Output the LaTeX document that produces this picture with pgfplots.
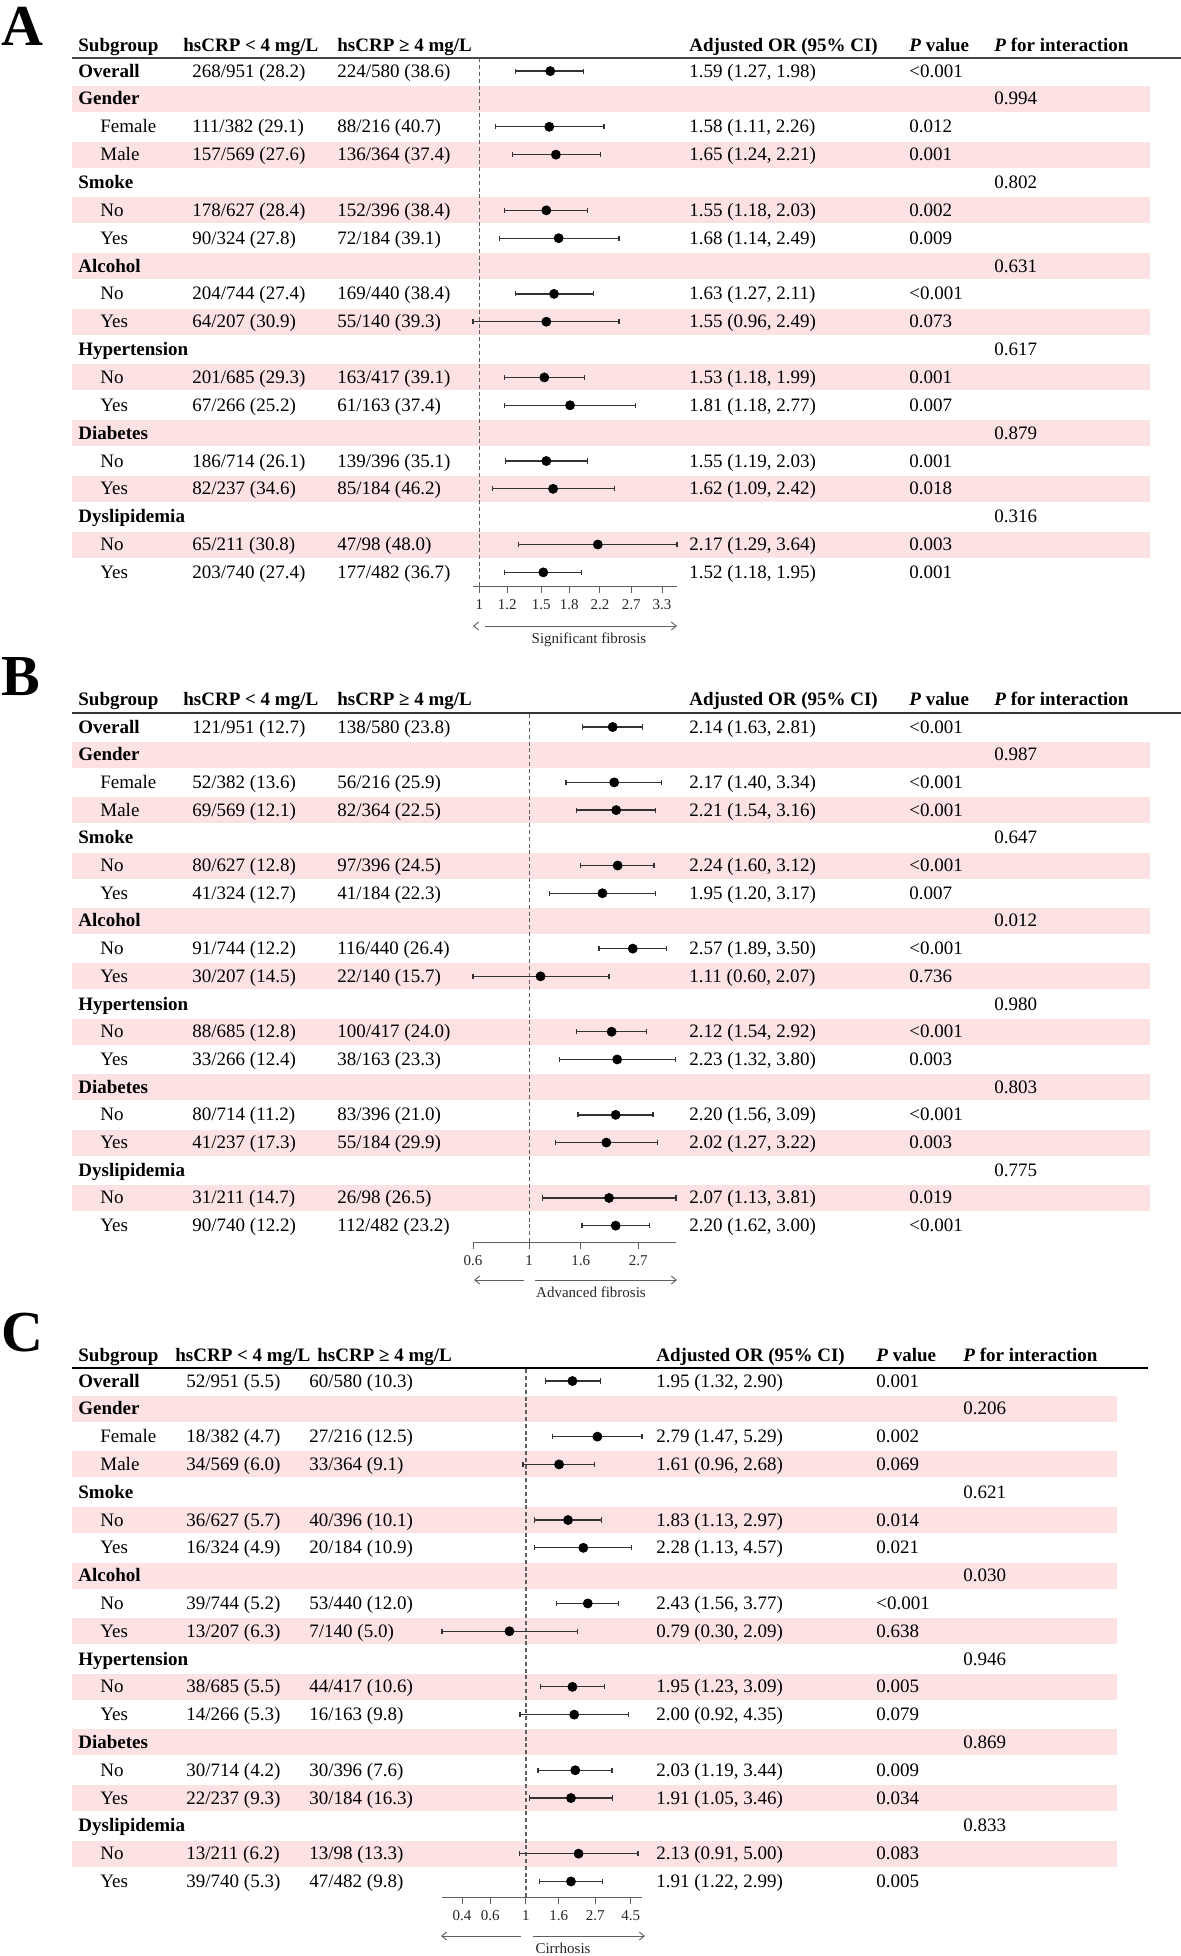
\documentclass[border=0pt]{standalone}
\usepackage{pgfplots}
\pgfplotsset{compat=1.18}
\usepackage{pgfplotstable}
\usepackage{fontspec}
\setmainfont{Liberation Serif}
\usetikzlibrary{arrows.meta}

\newlength\pu
\setlength\pu{0.5pt}
\definecolor{band}{RGB}{252,226,226}
\definecolor{cigray}{RGB}{50,50,50}
\definecolor{axgray}{RGB}{95,95,95}

% odds ratios per panel: row, OR, lower, upper
\pgfplotstableread{
row or lo hi
0 1.59 1.27 1.98
2 1.58 1.11 2.26
3 1.65 1.24 2.21
5 1.55 1.18 2.03
6 1.68 1.14 2.49
8 1.63 1.27 2.11
9 1.55 0.96 2.49
11 1.53 1.18 1.99
12 1.81 1.18 2.77
14 1.55 1.19 2.03
15 1.62 1.09 2.42
17 2.17 1.29 3.64
18 1.52 1.18 1.95
}\orA
\pgfplotstableread{
row or lo hi
0 2.14 1.63 2.81
2 2.17 1.40 3.34
3 2.21 1.54 3.16
5 2.24 1.60 3.12
6 1.95 1.20 3.17
8 2.57 1.89 3.50
9 1.11 0.60 2.07
11 2.12 1.54 2.92
12 2.23 1.32 3.80
14 2.20 1.56 3.09
15 2.02 1.27 3.22
17 2.07 1.13 3.81
18 2.20 1.62 3.00
}\orB
\pgfplotstableread{
row or lo hi
0 1.95 1.32 2.90
2 2.79 1.47 5.29
3 1.61 0.96 2.68
5 1.83 1.13 2.97
6 2.28 1.13 4.57
8 2.43 1.56 3.77
9 0.79 0.30 2.09
11 1.95 1.23 3.09
12 2.00 0.92 4.35
14 2.03 1.19 3.44
15 1.91 1.05 3.46
17 2.13 0.91 5.00
18 1.91 1.22 2.99
}\orC

\pgfplotsset{forestax/.style={
    scale only axis, anchor=south west, clip=false,
    axis x line*=bottom, axis y line=none,
    x axis line style={axgray, line width=0.5pt},
    tick style={axgray, line width=0.5pt},
    tick align=outside, major tick length=3.5pt,
    minor xtick={}, ytick=\empty,
    xticklabel style={font=\fontsize{7.5}{9}\selectfont, text=black!85},
  },
  ciplt/.style={only marks, mark=*, mark size=2.25pt, black,
    error bars/.cd, x dir=both, x explicit, error mark=|,
    error bar style={cigray, line width=0.65pt},
    error mark options={cigray, line width=0.6pt, mark size=1.3pt}},
}
\tikzset{txt/.style={anchor=base west, inner sep=0pt}}
\newcommand\ciplot[1]{\addplot[ciplt] table[x=or, y expr=-\thisrow{row},
    x error minus expr=\thisrow{or}-\thisrow{lo},
    x error plus expr=\thisrow{hi}-\thisrow{or}] {#1};}

% column positions (px)
\newcommand\setcols[9]{\def\ya{#1}\def\ys{#2}\def\cAh{#3}\def\cA{#4}%
  \def\cBh{#5}\def\cB{#6}\def\cOR{#7}\def\cP{#8}\def\cPI{#9}}
\newcommand\yb[1]{-(\ya+#1*\ys+6)*\pu}
\newcommand\band[1]{\fill[band] ({72*\pu},{-(\ya+#1*\ys-13)*\pu}) rectangle ({\bx*\pu},{-(\ya+#1*\ys+13)*\pu});}
\newcommand\hdr[1]{%
  \node[txt,font=\bfseries] at ({78*\pu},{-#1*\pu}) {Subgroup};
  \node[txt,font=\bfseries] at ({\cAh*\pu},{-#1*\pu}) {hsCRP < 4 mg/L};
  \node[txt,font=\bfseries] at ({\cBh*\pu},{-#1*\pu}) {hsCRP ≥ 4 mg/L};
  \node[txt,font=\bfseries] at ({\cOR*\pu},{-#1*\pu}) {Adjusted OR (95\% CI)};
  \node[txt,font=\bfseries] at ({\cP*\pu},{-#1*\pu}) {\textit{P} value};
  \node[txt,font=\bfseries] at ({\cPI*\pu},{-#1*\pu}) {\textit{P} for interaction};}
\newcommand\grp[3]{%
  \node[txt,font=\bfseries] at ({78*\pu},{\yb{#1}}) {#2};
  \node[txt] at ({\cPI*\pu},{\yb{#1}}) {#3};}
\newcommand\ent[8]{%
  \node[txt,font=#1] at ({#2*\pu},{\yb{#3}}) {#4};
  \node[txt] at ({\cA*\pu},{\yb{#3}}) {#5};
  \node[txt] at ({\cB*\pu},{\yb{#3}}) {#6};
  \node[txt] at ({\cOR*\pu},{\yb{#3}}) {#7};
  \node[txt] at ({\cP*\pu},{\yb{#3}}) {#8};}
\newcommand\ovr[4]{\ent{\bfseries}{78}{0}{Overall}{#1}{#2}{#3}{#4}}
\newcommand\subrow[6]{\ent{}{100}{#1}{#2}{#3}{#4}{#5}{#6}}
\newcommand\bands{\foreach \r in {1,3,...,17}{\band{\r}}}
\newcommand\refarrows[5]{% y, left tip, left start, right start, right tip
  \draw[axgray, line width=0.45pt, -{Straight Barb[length=2.5pt,width=4pt]}] ({#3*\pu},{-#1*\pu}) -- ({#2*\pu},{-#1*\pu});
  \draw[axgray, line width=0.45pt, -{Straight Barb[length=2.5pt,width=4pt]}] ({#4*\pu},{-#1*\pu}) -- ({#5*\pu},{-#1*\pu});}
\newcommand\xlab[3]{\node[anchor=base, inner sep=0pt, font=\fontsize{7.5}{9}\selectfont, text=black!85] at ({#1*\pu},{-#2*\pu}) {#3};}
\newcommand\plabel[2]{\node[anchor=base west, font=\fontsize{29}{30}\selectfont\bfseries, inner sep=0pt] at ({1*\pu},{-#2*\pu}) {#1};}

\begin{document}
\fontsize{9.5}{11}\selectfont
\begin{tikzpicture}
% ---------------- Panel A ----------------
\setcols{71.1}{27.85}{183}{192}{337}{337}{689}{909}{994}
\def\bx{1150}
\bands
\draw[gray!55!black, line width=1.1pt] ({72*\pu},{-58*\pu}) -- ({1181*\pu},{-58*\pu});
\plabel{A}{45}
\hdr{51}
\ovr{268/951 (28.2)}{224/580 (38.6)}{1.59 (1.27, 1.98)}{<0.001}
\grp{1}{Gender}{0.994}
\subrow{2}{Female}{111/382 (29.1)}{88/216 (40.7)}{1.58 (1.11, 2.26)}{0.012}
\subrow{3}{Male}{157/569 (27.6)}{136/364 (37.4)}{1.65 (1.24, 2.21)}{0.001}
\grp{4}{Smoke}{0.802}
\subrow{5}{No}{178/627 (28.4)}{152/396 (38.4)}{1.55 (1.18, 2.03)}{0.002}
\subrow{6}{Yes}{90/324 (27.8)}{72/184 (39.1)}{1.68 (1.14, 2.49)}{0.009}
\grp{7}{Alcohol}{0.631}
\subrow{8}{No}{204/744 (27.4)}{169/440 (38.4)}{1.63 (1.27, 2.11)}{<0.001}
\subrow{9}{Yes}{64/207 (30.9)}{55/140 (39.3)}{1.55 (0.96, 2.49)}{0.073}
\grp{10}{Hypertension}{0.617}
\subrow{11}{No}{201/685 (29.3)}{163/417 (39.1)}{1.53 (1.18, 1.99)}{0.001}
\subrow{12}{Yes}{67/266 (25.2)}{61/163 (37.4)}{1.81 (1.18, 2.77)}{0.007}
\grp{13}{Diabetes}{0.879}
\subrow{14}{No}{186/714 (26.1)}{139/396 (35.1)}{1.55 (1.19, 2.03)}{0.001}
\subrow{15}{Yes}{82/237 (34.6)}{85/184 (46.2)}{1.62 (1.09, 2.42)}{0.018}
\grp{16}{Dyslipidemia}{0.316}
\subrow{17}{No}{65/211 (30.8)}{47/98 (48.0)}{2.17 (1.29, 3.64)}{0.003}
\subrow{18}{Yes}{203/740 (27.4)}{177/482 (36.7)}{1.52 (1.18, 1.95)}{0.001}
\begin{axis}[xmode=log, forestax,
    at={({473*\pu},{-586*\pu})}, width=102pt, height=264pt,
    xmin=0.96, xmax=3.64, ymin=-18.49, ymax=0.47,
    xtick={1,1.2,1.5,1.8,2.2,2.7,3.3},
    xticklabels={1,1.2,1.5,1.8,2.2,2.7,3.3}]
  \draw[axgray, line width=0.6pt, dash pattern=on 2pt off 1.4pt] (axis cs:1,-18.49) -- (axis cs:1,0.47);
  \ciplot{\orA}
\end{axis}
\refarrows{626}{473}{474}{485}{677}
\xlab{589}{643}{Significant fibrosis}

% ---------------- Panel B ----------------
\setcols{727}{27.7}{183}{192}{337}{337}{689}{909}{994}
\def\bx{1150}
\bands
\draw[black!80, line width=0.8pt] ({72*\pu},{-713*\pu}) -- ({1181*\pu},{-713*\pu});
\plabel{B}{695}
\hdr{705}
\ovr{121/951 (12.7)}{138/580 (23.8)}{2.14 (1.63, 2.81)}{<0.001}
\grp{1}{Gender}{0.987}
\subrow{2}{Female}{52/382 (13.6)}{56/216 (25.9)}{2.17 (1.40, 3.34)}{<0.001}
\subrow{3}{Male}{69/569 (12.1)}{82/364 (22.5)}{2.21 (1.54, 3.16)}{<0.001}
\grp{4}{Smoke}{0.647}
\subrow{5}{No}{80/627 (12.8)}{97/396 (24.5)}{2.24 (1.60, 3.12)}{<0.001}
\subrow{6}{Yes}{41/324 (12.7)}{41/184 (22.3)}{1.95 (1.20, 3.17)}{0.007}
\grp{7}{Alcohol}{0.012}
\subrow{8}{No}{91/744 (12.2)}{116/440 (26.4)}{2.57 (1.89, 3.50)}{<0.001}
\subrow{9}{Yes}{30/207 (14.5)}{22/140 (15.7)}{1.11 (0.60, 2.07)}{0.736}
\grp{10}{Hypertension}{0.980}
\subrow{11}{No}{88/685 (12.8)}{100/417 (24.0)}{2.12 (1.54, 2.92)}{<0.001}
\subrow{12}{Yes}{33/266 (12.4)}{38/163 (23.3)}{2.23 (1.32, 3.80)}{0.003}
\grp{13}{Diabetes}{0.803}
\subrow{14}{No}{80/714 (11.2)}{83/396 (21.0)}{2.20 (1.56, 3.09)}{<0.001}
\subrow{15}{Yes}{41/237 (17.3)}{55/184 (29.9)}{2.02 (1.27, 3.22)}{0.003}
\grp{16}{Dyslipidemia}{0.775}
\subrow{17}{No}{31/211 (14.7)}{26/98 (26.5)}{2.07 (1.13, 3.81)}{0.019}
\subrow{18}{Yes}{90/740 (12.2)}{112/482 (23.2)}{2.20 (1.62, 3.00)}{<0.001}
\begin{axis}[xmode=log, forestax,
    at={({473*\pu},{-1242*\pu})}, width=101.5pt, height=264.5pt,
    xmin=0.6, xmax=3.81, ymin=-18.59, ymax=0.505,
    xtick={0.6,1,1.6,2.7},
    xticklabels={0.6,1,1.6,2.7}]
  \draw[axgray, line width=0.6pt, dash pattern=on 2pt off 1.4pt] (axis cs:1,-18.59) -- (axis cs:1,0.505);
  \ciplot{\orB}
\end{axis}
\refarrows{1280}{474}{524}{535}{677}
\xlab{591}{1297}{Advanced fibrosis}

% ---------------- Panel C ----------------
\setcols{1381}{27.8}{175}{186}{317}{309}{656}{876}{963}
\def\bx{1117}
\bands
\draw[black, line width=0.7pt] ({72*\pu},{-1368*\pu}) -- ({1148*\pu},{-1368*\pu});
\plabel{C}{1351}
\hdr{1361}
\ovr{52/951 (5.5)}{60/580 (10.3)}{1.95 (1.32, 2.90)}{0.001}
\grp{1}{Gender}{0.206}
\subrow{2}{Female}{18/382 (4.7)}{27/216 (12.5)}{2.79 (1.47, 5.29)}{0.002}
\subrow{3}{Male}{34/569 (6.0)}{33/364 (9.1)}{1.61 (0.96, 2.68)}{0.069}
\grp{4}{Smoke}{0.621}
\subrow{5}{No}{36/627 (5.7)}{40/396 (10.1)}{1.83 (1.13, 2.97)}{0.014}
\subrow{6}{Yes}{16/324 (4.9)}{20/184 (10.9)}{2.28 (1.13, 4.57)}{0.021}
\grp{7}{Alcohol}{0.030}
\subrow{8}{No}{39/744 (5.2)}{53/440 (12.0)}{2.43 (1.56, 3.77)}{<0.001}
\subrow{9}{Yes}{13/207 (6.3)}{7/140 (5.0)}{0.79 (0.30, 2.09)}{0.638}
\grp{10}{Hypertension}{0.946}
\subrow{11}{No}{38/685 (5.5)}{44/417 (10.6)}{1.95 (1.23, 3.09)}{0.005}
\subrow{12}{Yes}{14/266 (5.3)}{16/163 (9.8)}{2.00 (0.92, 4.35)}{0.079}
\grp{13}{Diabetes}{0.869}
\subrow{14}{No}{30/714 (4.2)}{30/396 (7.6)}{2.03 (1.19, 3.44)}{0.009}
\subrow{15}{Yes}{22/237 (9.3)}{30/184 (16.3)}{1.91 (1.05, 3.46)}{0.034}
\grp{16}{Dyslipidemia}{0.833}
\subrow{17}{No}{13/211 (6.2)}{13/98 (13.3)}{2.13 (0.91, 5.00)}{0.083}
\subrow{18}{Yes}{39/740 (5.3)}{47/482 (9.8)}{1.91 (1.22, 2.99)}{0.005}
\begin{axis}[xmode=log, forestax,
    at={({442*\pu},{-1897*\pu})}, width=100pt, height=264.5pt,
    xmin=0.30, xmax=5.29, ymin=-18.56, ymax=0.468,
    xtick={0.4,0.6,1,1.6,2.7,4.5},
    xticklabels={0.4,0.6,1,1.6,2.7,4.5}]
  \draw[axgray, line width=0.6pt, dash pattern=on 2pt off 1.4pt] (axis cs:1,-18.56) -- (axis cs:1,0.468);
  \ciplot{\orC}
\end{axis}
\refarrows{1936}{441}{521}{533}{645}
\xlab{563}{1953}{Cirrhosis}

\pgfresetboundingbox
\path (0,0) rectangle ({1181*\pu},{-1956*\pu});
\end{tikzpicture}
\end{document}
